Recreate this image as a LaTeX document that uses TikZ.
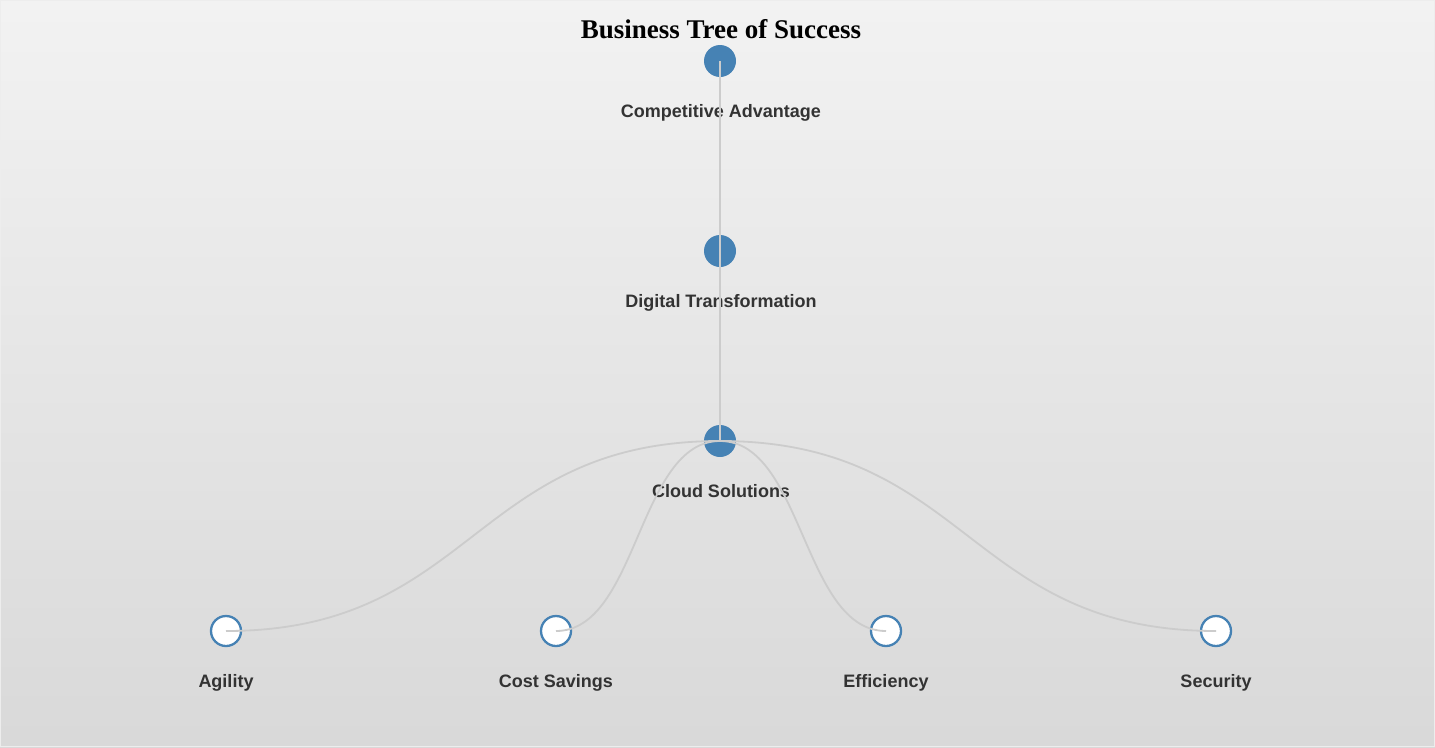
\documentclass[tikz,border=0pt]{standalone}
\usepackage{fontspec}
\setmainfont{Liberation Sans}
\newfontfamily\titlefont{Liberation Serif}
\usetikzlibrary{calc}

\definecolor{steel}{HTML}{4682B4}
\definecolor{linkgray}{HTML}{CCCCCC}
\definecolor{labelgray}{HTML}{333333}

\tikzset{
  branch/.style={circle,fill=steel,minimum size=32pt,inner sep=0pt},
  leaf/.style={circle,draw=steel,line width=2.3pt,fill=white,minimum size=30pt,inner sep=0pt},
  lbl/.style={anchor=base,text=labelgray,font=\fontsize{18}{18}\selectfont\bfseries},
  link/.style={draw=linkgray,line width=1.8pt}
}

\begin{document}
\begin{tikzpicture}[x=1pt,y=-1pt]
    \useasboundingbox (0,0) rectangle (1435,747);
    \shade[top color=black!5,bottom color=black!15] (0,0) rectangle (1435,747);
    \draw[black!7,line width=1pt] (0.5,0.5) rectangle (1434.5,746.5);

    \node[anchor=base,font=\titlefont\fontsize{27}{27}\selectfont\bfseries] (title) at (721,38) {Business Tree of Success};

    % trunk
    \node[branch] (advantage) at (720,61) {};
    \node[lbl] (advantagelbl) at (721,117) {Competitive Advantage};

    \node[branch] (digital) at (720,251) {};
    \node[lbl] (digitallbl) at (721,307) {Digital Transformation};

    \node[branch] (cloud) at (720,441) {};
    \node[lbl] (cloudlbl) at (721,497) {Cloud Solutions};

    % leaves
    \node[leaf] (agility) at (226,631) {};
    \node[lbl] (agilitylbl) at (226,687) {Agility};

    \node[leaf] (costsav) at (556,631) {};
    \node[lbl] (costsavlbl) at (556,687) {Cost Savings};

    \node[leaf] (efficiency) at (886,631) {};
    \node[lbl] (efficiencylbl) at (886,687) {Efficiency};

    \node[leaf] (security) at (1216,631) {};
    \node[lbl] (securitylbl) at (1216,687) {Security};

    % links
    \draw[link] (advantage.center) -- (digital.center);
    \draw[link] (digital.center) -- (cloud.center);
    \foreach \leafname in {agility,costsav,efficiency,security} {
      \coordinate (mid) at ($(cloud.center)!0.5!(\leafname.center)$);
      \draw[link] (cloud.center) .. controls (mid |- cloud.center) and (mid |- \leafname.center) .. (\leafname.center);
    }
\end{tikzpicture}
\end{document}
